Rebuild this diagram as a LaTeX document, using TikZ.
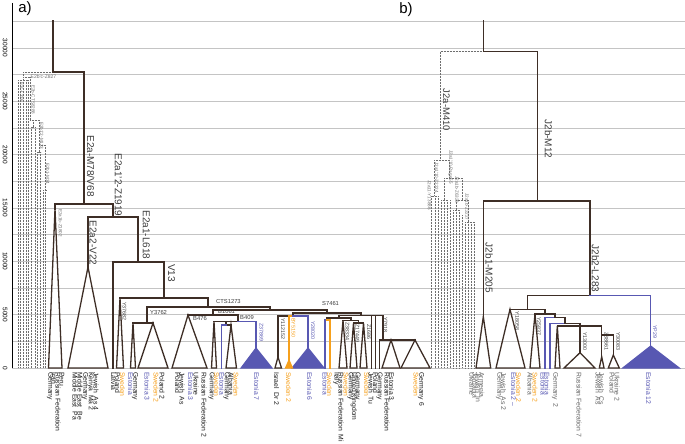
\documentclass[tikz,border=0pt]{standalone}
\usepackage{fontspec}
\setmainfont{Liberation Sans}
\definecolor{br}{RGB}{62,46,38}
\definecolor{bl}{RGB}{88,88,178}
\definecolor{og}{RGB}{246,160,28}
\definecolor{gl}{RGB}{196,196,196}
\definecolor{dtc}{RGB}{110,110,110}
\definecolor{lbc}{RGB}{60,60,60}
\definecolor{lfa}{RGB}{25,25,25}
\definecolor{lfg}{RGB}{100,100,100}
\begin{document}
\begin{tikzpicture}[x=1pt,y=-1pt,
  tr/.style={draw=br, line width=1.3pt, line cap=rect, line join=miter},
  trb/.style={draw=bl, line width=1.3pt, line cap=rect},
  tro/.style={draw=og, line width=1.3pt, line cap=rect},
  tri/.style={draw=br, line width=1.3pt, line join=miter},
  trib/.style={draw=bl, fill=bl, line width=1.1pt, line join=miter},
  trio/.style={draw=og, fill=og, line width=1.1pt, line join=miter},
  dots/.style={draw=dtc, line width=0.5pt, dash pattern=on 0.6pt off 0.9pt},
  gridl/.style={draw=gl, line width=0.7pt},
  lf/.style={rotate=-90, anchor=west, inner sep=0pt, font=\fontsize{6.8}{7}\selectfont},
  big/.style={rotate=-90, inner sep=0pt, font=\fontsize{10}{11}\selectfont, text=lbc},
  sm/.style={anchor=west, inner sep=0pt, font=\fontsize{5.8}{6}\selectfont, text=lbc},
  smr/.style={rotate=-90, anchor=west, inner sep=0pt, font=\fontsize{5.3}{6}\selectfont, text=lbc},
  tinyr/.style={rotate=-90, anchor=west, inner sep=0pt, font=\fontsize{4.6}{5}\selectfont, text=dtc},
  tickl/.style={rotate=-90, inner sep=0pt, font=\fontsize{6.5}{7}\selectfont},
]
\useasboundingbox (0,0) rectangle (685,444);
% grid
\foreach \k in {0,...,13} \draw[gridl] (12,{368-\k*26.6667}) -- (685,{368-\k*26.6667});
\draw[line width=0.7pt] (12.5,3) -- (12.5,368);
\foreach \v/\y in {30000/48,25000/101.33,20000/154.67,15000/208,10000/261.33,5000/314.67,0/368}
  \node[tickl] (t\v) at (5,\y) {\v};
\node[font=\fontsize{15}{16}\selectfont] (pa) at (25,9) {a)};
\node[font=\fontsize{15}{16}\selectfont] (pb) at (406,10) {b)};

% ================= panel a ==================
% dotted outgroup
\draw[dots] (23,72) -- (53,72);
\draw[dots] (23,72) -- (23,77) (23,77) -- (30,77);
\draw[dots] (18.3,80) -- (28.7,80) (23.3,77) -- (23.3,80);
\foreach \x in {18.3,20.7,23.3,26,28.7} \draw[dots] (\x,80) -- (\x,368);
\draw[dots] (30,77) -- (30,120) (30,120) -- (39,120) (33.3,120) -- (33.3,127) (31.7,127) -- (35,127);
\foreach \x in {31.7,35} \draw[dots] (\x,127) -- (\x,368);
\draw[dots] (39,120) -- (39,145) (39,145) -- (45,145) (39.2,145) -- (39.2,152) (37.7,152) -- (40.7,152);
\foreach \x in {37.7,40.7} \draw[dots] (\x,152) -- (\x,368);
\draw[dots] (45,145) -- (45,190) (43,190) -- (47,190);
\foreach \x in {43,45.5} \draw[dots] (\x,190) -- (\x,368);
\node[sm, font=\fontsize{5}{5}\selectfont, text=dtc] (lz827) at (30.5,76.5) {E2b'c-Z827};
\node[tinyr] (l336) at (21.7,82) {E2c-L336};
\node[tinyr] (l8288) at (33.3,85) {E2b-CTS8288};
\node[tinyr] (l123) at (41.7,122) {E2b1'2-M123};
\node[tinyr] (l34) at (47.7,163) {E2b1-M34};

% main tree a
\draw[tr] (53,21) -- (53,72) -- (84,72) -- (84,204);
\draw[tr] (55,204) -- (113,204);
\draw[tr] (55,204) -- (55,209);
\draw[tri] (55,209) -- (48.5,368) -- (62,368) -- cycle;
\node[tinyr] (l1802) at (60.5,209) {E2a1b-Z1802};
\draw[tr] (113,204) -- (113,217);
\draw[tr] (88,217) -- (138,217);
\draw[tr] (88,217) -- (88,267);
\draw[tri] (88,267) -- (68,368) -- (108,368) -- cycle;
\draw[tr] (138,217) -- (138,262);
\draw[tr] (113,262) -- (164,262);
\draw[tr] (113,262) -- (113,368);
\draw[tr] (164,262) -- (164,298);
\draw[tr] (120,298) -- (208,298);
\draw[tri] (120,298) -- (116.5,368) -- (123.5,368) -- cycle;
\draw[tr] (208,298) -- (208,307);
\draw[tr] (147,307) -- (270,307);
\draw[tr] (147,307) -- (147,323);
\draw[tr] (133,323) -- (153,323);
\draw[tri] (133,323) -- (130.5,368) -- (135.5,368) -- cycle;
\draw[tri] (153,323) -- (138,368) -- (168,368) -- cycle;
\draw[tr] (270,307) -- (270,310);
\draw[tr] (213,310) -- (327,310);
\draw[tr] (213,310) -- (213,315);
\draw[tr] (188,315) -- (238,315);
\draw[tri] (188,315) -- (172,368) -- (207,368) -- cycle;
\draw[tr] (238,315) -- (238,321.5);
\draw[tr] (214,321.5) -- (238,321.5);
\draw[trb] (238,321.5) -- (256,321.5) -- (256,348);
\draw[trib] (256,348) -- (241,368) -- (272,368) -- cycle;
\draw[tri] (214,321.5) -- (211.5,368) -- (216.5,368) -- cycle;
\draw[tr] (226,321.5) -- (226,325) -- (231,325);
\draw[trb] (221.7,325) -- (226,325);
\draw[trb] (221.7,325) -- (221.7,368);
\draw[tri] (231,325) -- (226,368) -- (236.5,368) -- cycle;
% S7461
\draw[tr] (327,310) -- (327,313);
\draw[tr] (293,313) -- (361,313);
\draw[tr] (293,313) -- (293,316);
\draw[tr] (278,316) -- (289,316);
\draw[tro] (289,316) -- (293,316);
\draw[trb] (293,316) -- (308,316) -- (308,348);
\draw[trib] (308,348) -- (292,368) -- (324,368) -- cycle;
\draw[tro] (289,316) -- (289,360);
\draw[trio] (289,360) -- (285.5,368) -- (292.5,368) -- cycle;
\draw[tr] (278,316) -- (278,357);
\draw[tri] (278,357) -- (275,368) -- (281.5,368) -- cycle;
\draw[tr] (361,313) -- (361,315.5);
\draw[tr] (339,315.5) -- (383,315.5);
\draw[tr] (339,315.5) -- (339,318);
\draw[tr] (327,318) -- (351,318);
\draw[tr] (327,318) -- (327,320);
\draw[trb] (325,320) -- (327,320);
\draw[tro] (327,320) -- (330,320);
\draw[trb] (325,320) -- (325,368);
\draw[tro] (330,320) -- (330,368);
\draw[tr] (351,318) -- (351,320.5);
\draw[tr] (343,320.5) -- (358.5,320.5);
\draw[tri] (343,320.5) -- (339,368) -- (347,368) -- cycle;
\draw[tr] (358.5,320.5) -- (358.5,323);
\draw[tr] (353.5,323) -- (363.5,323);
\draw[tri] (353.5,323) -- (350,368) -- (357,368) -- cycle;
\draw[tri] (363.5,323) -- (360,368) -- (367,368) -- cycle;
\draw[tr] (371.5,315.5) -- (371.5,368);
\draw[tr] (375.5,315.5) -- (375.5,368);
\draw[tr] (383,315.5) -- (383,340);
\draw[tr] (379.5,340) -- (415,340);
\draw[tr] (379.5,340) -- (379.5,368);
\draw[tri] (391,340) -- (382,368) -- (400,368) -- cycle;
\draw[tri] (415,340) -- (401,368) -- (430,368) -- cycle;

% branch labels a
\node[big] (bE2a) at (90.7,166) {E2a-M78/V68};
\node[big] (bZ1919) at (118.3,185) {E2a1'2-Z1919};
\node[big] (bV22) at (93,243) {E2a2-V22};
\node[big] (bL618) at (146.3,235) {E2a1-L618};
\node[big] (bV13) at (171.5,273) {V13};
\node[sm] (nCTS) at (216,301.5) {CTS1273};
\node[sm] (nY3762) at (150,312.5) {Y3762};
\node[sm] (nB1061) at (218,311.3) {B1061};
\node[sm] (nB476) at (193,319) {B476};
\node[sm] (nB409) at (240,317.5) {B409};
\node[sm] (nS7461) at (322,304) {S7461};
\node[smr] (nY37682) at (124.5,302) {Y37682};
\node[smr, text=bl] (nZ37869) at (261.5,323) {Z37869};
\node[smr] (nY112152) at (283,318) {Y112152};
\node[smr, text=og] (nBY5150) at (293.5,318) {BY5150};
\node[smr, text=bl] (nY28020) at (313,321) {Y28020};
\node[smr] (nZ38334) at (347.5,322) {Z38334};
\node[smr] (nZ17449) at (357.5,324) {Z17449};
\node[smr] (nZ1686) at (369,324) {Z1686};
\node[smr] (nY7918) at (385.5,317) {Y7918};

% leaf labels a
\foreach \x/\t/\c [count=\i] in {50/Germany/lfa, 54/Iran/lfa, 58/Russian Federation/lfa, 62/Peru/lfa,
  75/Middle East~~Pa/lfa, 80/Middle East~~Be/lfa, 85/Germany/lfa, 90.5/Kenya~~Ma 2/lfa, 96/Jewish~~As 4/lfa,
  113.5/Latvia/lfa, 117.5/Poland/lfa, 122.5/Sweden/og, 130.5/Estonia/bl, 135/Germany/lfa,
  147/Estonia 3/bl, 156/Sweden 2/og, 162/Poland 2/lfa,
  177.5/Poland/lfa, 182/Jewish~~As/lfa, 190.5/Estonia 3/bl, 196/Ukraine/lfa, 204/Russian Federation 2/lfa,
  211.5/Germany/lfa, 216.5/Sweden/og, 221.7/Estonia/bl, 226.5/Germany/lfa, 231/Albania/lfa, 236/Sweden/og,
  256.5/Estonia 7/bl, 276.5/Israel~~Dr 2/lfa, 288.5/Sweden 2/og, 309.5/Estonia 6/bl,
  325/Estonia/bl, 329.5/Sweden/og, 336.5/Italy/lfa, 341/Russian Federation~~Mi/lfa, 346/Sweden/og,
  350.5/Germany/lfa, 354/United Kingdom/lfa, 357.5/Germany/lfa, 366.5/Sweden/og, 371/Jewish~~Tu/lfa,
  375.5/Poland/lfa, 379.5/Germany/lfa, 387/Russian Federation/lfa, 391.5/Estonia 3/lfa,
  416/Sweden/og, 421/Germany 6/lfa}
  \node[lf, text=\c] (la\i) at (\x,372) {\t};

% ================= panel b ==================
\draw[dots] (440.7,51.7) -- (483.3,51.7);
\draw[dots] (440.7,51.7) -- (440.7,160);
\draw[dots] (434,160) -- (449,160);
\draw[dots] (434,160) -- (434,196) (431.5,196) -- (438,196);
\draw[dots] (449,160) -- (449,178) (444,178) -- (462,178);
\draw[dots] (444,178) -- (444,200) (441,200) -- (447,200);
\draw[dots] (462,178) -- (462,200) (456,200) -- (468,200);
\draw[dots] (456,200) -- (456,210) (453,210) -- (459,210);
\draw[dots] (468,200) -- (468,222) (465,222) -- (474,222);
\foreach \x/\t in {431.5/196,434.8/196,438/196,441/200,444/200,447/200,450/205,453/210,456/210,459/210,462/215,465/222,468/222,471/222,474/222}
  \draw[dots] (\x,\t) -- (\x,368);
\draw[dots] (450,200) -- (450,205);
\node[big, font=\fontsize{9.5}{10}\selectfont] (bM410) at (446.5,110) {J2a-M410};
\node[tinyr] (d1) at (450.5,150) {J2a1'10-Page55};
\node[tinyr] (d2) at (436.7,162) {J2a1'10-Z2224};
\node[tinyr] (d3) at (429.5,180) {J2a11-Y13886};
\node[tinyr] (d4) at (457,176) {J2a1b-Z6328};
\node[tinyr] (d5) at (467,193) {J2a1b-Z2227};

\draw[tr] (483.3,21) -- (483.3,51.7) -- (537.3,51.7) -- (537.3,201);
\draw[tr] (483.3,201) -- (590,201);
\draw[tr] (483.3,201) -- (483.3,316.7);
\draw[tri] (483.3,316.7) -- (476,368) -- (490.7,368) -- cycle;
\draw[tr] (590,201) -- (590,295.7);
\draw[tr] (527.3,295.7) -- (590,295.7);
\draw[trb] (590,295.7) -- (650.7,295.7) -- (650.7,346);
\draw[trib] (650.7,346) -- (622.7,368) -- (679.3,368) -- cycle;
\draw[tr] (527.3,295.7) -- (527.3,309.3);
\draw[tr] (510,309.3) -- (545,309.3);
\draw[tri] (510,309.3) -- (496,368) -- (525,368) -- cycle;
\draw[tr] (545,309.3) -- (545,314);
\draw[tr] (535,314) -- (555,314);
\draw[tri] (535,314) -- (530,368) -- (540,368) -- cycle;
\draw[tr] (555,314) -- (555,317.3);
\draw[trb] (545,317.3) -- (555,317.3);
\draw[tr] (555,317.3) -- (565,317.3);
\draw[trb] (545,317.3) -- (545,368);
\draw[tr] (565,317.3) -- (565,323.3);
\draw[trb] (550,323.3) -- (565,323.3);
\draw[tr] (565,323.3) -- (580,323.3);
\draw[trb] (550,323.3) -- (550,368);
\draw[tr] (580,323.3) -- (580,352.7);
\draw[tr] (557.3,326) -- (601.7,326);
\draw[tri] (557.3,326) -- (555,368) -- (560,368) -- cycle;
\draw[tri] (580,352.7) -- (564,368) -- (595,368) -- cycle;
\draw[tr] (601.7,326) -- (601.7,356.7);
\draw[tr] (601.7,335) -- (613.3,335);
\draw[tri] (601.7,356.7) -- (599.3,368) -- (604,368) -- cycle;
\draw[tr] (613.3,335) -- (613.3,355);
\draw[tri] (613.3,355) -- (608.3,368) -- (619.3,368) -- cycle;

\node[big] (bM12) at (548.5,139) {J2b-M12};
\node[big] (bM205) at (489.3,268) {J2b1-M205};
\node[big] (bL283) at (595.5,268.5) {J2b2-L283};
\node[smr] (nY18058) at (517.3,311.7) {Y18058};
\node[smr] (nY25837) at (539,317) {Y25837};
\node[smr] (nY13000) at (585,332) {Y13000};
\node[smr] (nZ38661) at (606.5,332) {Z38661};
\node[smr] (nY30083) at (618.3,332) {Y30083};
\node[smr, text=bl] (nYP29) at (655,325) {YP29};

\foreach \x/\t/\c [count=\i] in {471.7/Ukraine/lfg, 475/Jordania/lfg, 478.3/Jewish~~In/lfg, 481.7/Armenia/lfg,
  499/Germany/lfg, 503.5/Jewish~~As 2/lfg, 513.5/Estonia 2 –/bl, 518.5/Sweden 2/og,
  530/Albania/lfg, 535/Sweden 2/og, 543/Estonia/bl, 547/Estonia/bl, 555/Germany~~2/lfg,
  579/Russian Federation 7/lfg, 598/Jewish~~As/lfg, 601.5/Jewish~~Cs/lfg, 612/Poland/lfg, 617/Ukraine 2/lfg,
  648.5/Estonia 12/bl}
  \node[lf, text=\c] (lb\i) at (\x,372) {\t};
\end{tikzpicture}
\end{document}
